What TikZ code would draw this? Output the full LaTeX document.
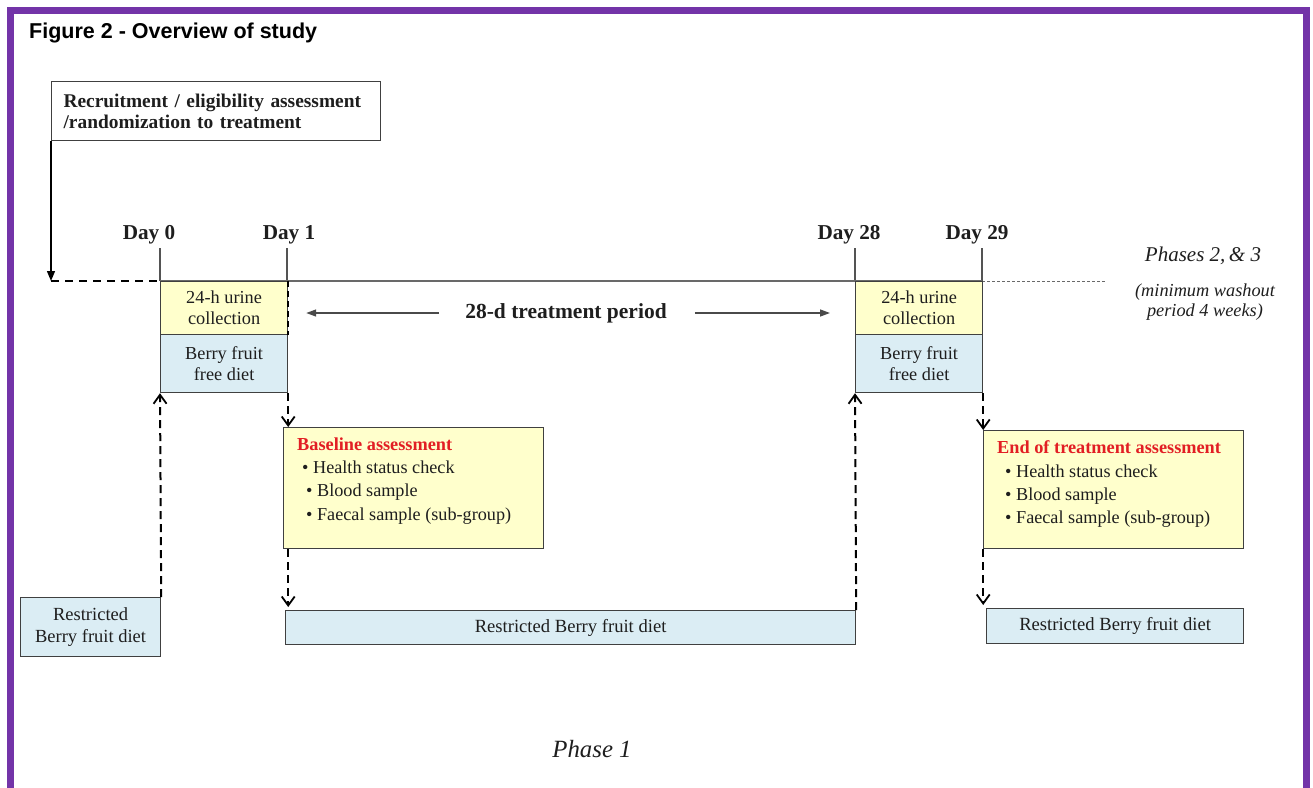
\documentclass[tikz,border=0pt]{standalone}
\usepackage{fontspec}
\setmainfont{Liberation Serif}
\newfontfamily\headfont{Liberation Sans}
\usetikzlibrary{arrows.meta}

\definecolor{framepurple}{RGB}{115,52,168}
\definecolor{urineyellow}{RGB}{255,255,204}
\definecolor{dietblue}{RGB}{219,237,244}
\definecolor{boxline}{RGB}{64,64,64}
\definecolor{axisgray}{RGB}{105,105,105}
\definecolor{headred}{RGB}{226,30,36}
\definecolor{inkdark}{RGB}{30,30,30}

\tikzset{
  box/.style={draw=boxline, line width=1.2pt, inner sep=0pt, align=center,
    anchor=north west, text=inkdark},
  urinebox/.style={box, fill=urineyellow, font=\fontsize{18.3}{21}\selectfont},
  dietbox/.style={box, fill=dietblue, font=\fontsize{18.3}{21}\selectfont},
  assessbox/.style={box, fill=urineyellow},
  daylabel/.style={font=\bfseries\fontsize{21.2}{24}\selectfont, text=inkdark, inner sep=0pt},
  itemline/.style={anchor=base west, inner sep=0pt, text=inkdark,
    font=\fontsize{18.2}{21}\selectfont},
  headline/.style={anchor=base west, inner sep=0pt, text=headred,
    font=\bfseries\fontsize{18.3}{21}\selectfont},
  tick/.style={draw=axisgray!80!black, line width=1.2pt},
  flow/.style={draw=black, line width=2pt, dash pattern=on 8pt off 5pt,
    -{Straight Barb[length=9pt,width=13pt,line width=1.8pt]}},
  period/.style={draw=axisgray!70!black, line width=1.4pt,
    -{Triangle[length=10pt,width=7pt]}},
}

\begin{document}
\begin{tikzpicture}[x=1pt,y=-1pt]
\useasboundingbox (0,0) rectangle (1313,787);

% frame, open at the bottom
\draw[framepurple, line width=7pt] (10,790) -- (10,10.5) -- (1306,10.5) -- (1306,790);

% heading
\node[anchor=west, inner sep=0pt, font=\headfont\bfseries\fontsize{21.5}{24}\selectfont]
  (title) at (29,33) {Figure 2 - Overview of study};

% recruitment box
\node[box, minimum width=329pt, minimum height=59pt, align=left, text width=305pt,
  font=\bfseries\fontsize{19.4}{21}\selectfont] (recruit) at (51,81)
  {Recruitment / eligibility assessment\\/randomization to treatment};

% day labels and ticks
\node[daylabel] (day0)  at (149,235) {Day 0};
\node[daylabel] (day1)  at (289,235) {Day 1};
\node[daylabel] (day28) at (849,235) {Day 28};
\node[daylabel] (day29) at (977,235) {Day 29};

\coordinate (t0) at (160,281);
\coordinate (t1) at (287,281);
\coordinate (t28) at (855,281);
\coordinate (t29) at (982,281);
\coordinate (tEnd) at (1105,281);
\coordinate (recTurn) at (51,281);

\draw[tick] (160,248) -- (t0);
\draw[tick] (287,248) -- (t1);
\draw[tick] (855,248) -- (t28);
\draw[tick] (982,248) -- (t29);

% timeline
\draw[axisgray, line width=1.2pt] (t0) -- (t29);
\draw[axisgray, line width=0.9pt, dash pattern=on 3pt off 2pt] (t29) -- (tEnd);

% recruitment feeds the start of the timeline
\draw[black, line width=1.4pt, -{Triangle[length=10pt,width=8pt]}] (recruit.south west) -- (recTurn);
\draw[black, line width=2pt, dash pattern=on 8pt off 6pt] (recTurn) -- (t0);

% day 0 / day 1 boxes
\node[urinebox, minimum width=127pt, minimum height=53pt] (urine0) at (160,281) {24-h urine\\collection};
\node[dietbox, minimum width=127pt, minimum height=58pt] (berry0) at (160,334) {Berry fruit\\free diet};
\draw[black, line width=1.8pt, dash pattern=on 6pt off 4pt] (urine0.north east) -- (urine0.south east);

% day 28 / day 29 boxes
\node[urinebox, minimum width=127pt, minimum height=53pt] (urine28) at (855,281) {24-h urine\\collection};
\node[dietbox, minimum width=127pt, minimum height=58pt] (berry28) at (855,334) {Berry fruit\\free diet};

% treatment period
\node[inner sep=0pt, text=inkdark, font=\bfseries\fontsize{21.5}{24}\selectfont] (period) at (566,313) {28-d treatment period};
\draw[period] ([xshift=-26pt]period.west) -- ([xshift=18pt]urine0.east |- period.west);
\draw[period] ([xshift=28pt]period.east) -- ([xshift=-25pt]urine28.west |- period.east);

% phases 2 and 3
\node[inner sep=0pt, text=inkdark, font=\itshape\fontsize{21}{24}\selectfont] (later) at (1203,256) {Phases 2,\,\& 3};
\node[inner sep=0pt, text=inkdark, align=center, font=\itshape\fontsize{18.3}{19.5}\selectfont]
  (washout) at (1205,302) {(minimum washout\\period 4 weeks)};

% restricted diet boxes
\node[dietbox, minimum width=140pt, minimum height=59pt, font=\fontsize{18.5}{22}\selectfont] (restr0) at (20,597) {Restricted\\Berry fruit diet};
\node[dietbox, minimum width=570pt, minimum height=34pt, font=\fontsize{18.6}{21}\selectfont] (restr1) at (285,610) {Restricted Berry fruit diet};
\node[dietbox, minimum width=257pt, minimum height=35pt, font=\fontsize{18.6}{21}\selectfont] (restr2) at (986,608) {Restricted Berry fruit diet};

% baseline assessment
\node[assessbox, minimum width=260pt, minimum height=121pt] (base) at (283,427) {};
\node[headline] (baseHead) at (297,450) {Baseline assessment};
\node[itemline] (baseA) at (302,473) {\textbullet\ Health status check};
\node[itemline] (baseB) at (306,496) {\textbullet\ Blood sample};
\node[itemline] (baseC) at (306,520) {\textbullet\ Faecal sample (sub-group)};

% end of treatment assessment
\node[assessbox, minimum width=260pt, minimum height=118pt] (final) at (983,430) {};
\node[headline] (finalHead) at (997,453) {End of treatment assessment};
\node[itemline] (finalA) at (1005,477) {\textbullet\ Health status check};
\node[itemline] (finalB) at (1005,500) {\textbullet\ Blood sample};
\node[itemline] (finalC) at (1005,523) {\textbullet\ Faecal sample (sub-group)};

% flow between stages
\draw[flow] (restr0.north east) -- (berry0.south west);
\draw[flow] (berry0.south east) -- (berry0.south east |- base.north);
\draw[flow] (berry0.south east |- base.south) -- ([yshift=3pt]berry0.south east |- restr1.north);
\draw[flow] (restr1.north east) -- (berry28.south west);
\draw[flow] (berry28.south east) -- (berry28.south east |- final.north);
\draw[flow] (berry28.south east |- final.south) -- ([yshift=3pt]berry28.south east |- restr2.north);

% phase label
\node[inner sep=0pt, text=inkdark, font=\itshape\fontsize{24.8}{26}\selectfont] (phase) at (592,749) {Phase 1};

\end{tikzpicture}
\end{document}
